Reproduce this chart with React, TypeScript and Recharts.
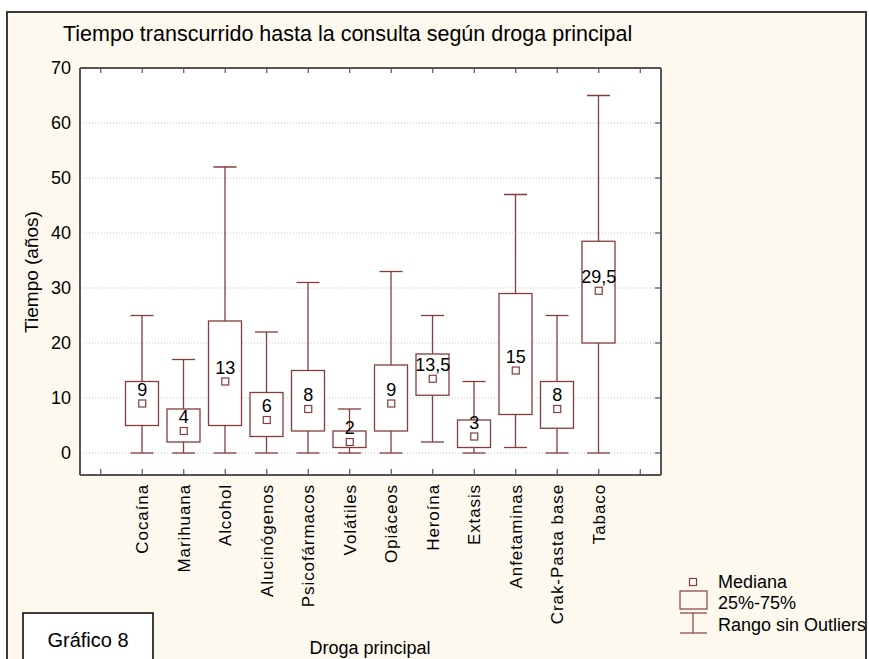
import { ComposedChart, Bar, Line, XAxis, YAxis, CartesianGrid } from 'recharts';

const drugs = [
  'Cocaína',
  'Marihuana',
  'Alcohol',
  'Alucinógenos',
  'Psicofármacos',
  'Volátiles',
  'Opiáceos',
  'Heroína',
  'Extasis',
  'Anfetaminas',
  'Crak-Pasta base',
  'Tabaco',
];
const mins = [0, 0, 0, 0, 0, 0, 0, 2, 0, 1, 0, 0];
const q1s = [5, 2, 5, 3, 4, 1, 4, 10.5, 1, 7, 4.5, 20];
const medians = [9, 4, 13, 6, 8, 2, 9, 13.5, 3, 15, 8, 29.5];
const q3s = [13, 8, 24, 11, 15, 4, 16, 18, 6, 29, 13, 38.5];
const maxs = [25, 17, 52, 22, 31, 8, 33, 25, 13, 47, 25, 65];
const yTicks = [0, 10, 20, 30, 40, 50, 60, 70];

// empty slot at each end, like the original plot
const data = [
  { name: '' },
  ...drugs.map((name, i) => ({
    name,
    range: [mins[i], maxs[i]],
    min: mins[i],
    q1: q1s[i],
    median: medians[i],
    q3: q3s[i],
    max: maxs[i],
  })),
  { name: ' ' },
];

const MAROON = '#843c3c';
const AXIS = '#555';
const FONT = '"Liberation Sans", Arial, sans-serif';

function BoxShape(props: any) {
  const { x, y, width, height, payload } = props;
  if (!payload || payload.q1 == null || height == null) return null;
  const top = Math.min(y, y + height);
  const bottom = Math.max(y, y + height);
  const k = (bottom - top) / (payload.max - payload.min);
  const yOf = (v: number) => top + (payload.max - v) * k;
  const cx = x + width / 2;
  const cap = 11.5;
  return (
    <g stroke={MAROON} strokeWidth={1.3} fill="none">
      <line x1={cx} x2={cx} y1={yOf(payload.max)} y2={yOf(payload.min)} />
      <line x1={cx - cap} x2={cx + cap} y1={yOf(payload.max)} y2={yOf(payload.max)} />
      <line x1={cx - cap} x2={cx + cap} y1={yOf(payload.min)} y2={yOf(payload.min)} />
      <rect
        x={x}
        y={yOf(payload.q3)}
        width={width}
        height={yOf(payload.q1) - yOf(payload.q3)}
        fill="#fff"
      />
    </g>
  );
}

function MedianDot(props: any) {
  const { cx, cy, value } = props;
  if (value == null || cy == null || isNaN(cy)) return null;
  return (
    <rect
      key={`m-${cx}`}
      x={cx - 3.5}
      y={cy - 3.5}
      width={7}
      height={7}
      fill="#fff"
      stroke={MAROON}
      strokeWidth={1.2}
    />
  );
}

function MedianLabel(props: any) {
  const { x, y, value } = props;
  if (value == null || y == null || isNaN(y)) return null;
  return (
    <text
      x={x}
      y={y - 8}
      textAnchor="middle"
      fontSize={18}
      fontFamily={FONT}
      fill="#000"
    >
      {String(value).replace('.', ',')}
    </text>
  );
}

function BottomTick(props: any) {
  const { x, y, payload } = props;
  const label = String(payload.value).trim();
  return (
    <g>
      <line x1={x} x2={x} y1={y - 1} y2={y - 6} stroke={AXIS} strokeWidth={1.2} />
      {label && (
        <text
          transform={`translate(${x},${y + 9}) rotate(-90)`}
          textAnchor="end"
          dy="0.36em"
          fontSize={17}
          letterSpacing={0.9}
          fontFamily={FONT}
          fill="#000"
        >
          {label}
        </text>
      )}
    </g>
  );
}

function TopTick(props: any) {
  const { x, y } = props;
  return <line x1={x} x2={x} y1={y + 1} y2={y + 5} stroke={AXIS} strokeWidth={1.2} />;
}

function LeftTick(props: any) {
  const { x, y, payload } = props;
  return (
    <text
      x={x - 9}
      y={y}
      dy="0.36em"
      textAnchor="end"
      fontSize={18}
      fontFamily={FONT}
      fill="#000"
    >
      {payload.value}
    </text>
  );
}

function RightTick(props: any) {
  const { x, y } = props;
  return <line x1={x - 1} x2={x - 6} y1={y} y2={y} stroke={AXIS} strokeWidth={1.2} />;
}

export default function App() {
  return (
    <div
      style={{
        position: 'relative',
        width: 869,
        height: 659,
        overflow: 'hidden',
        background: '#fff',
        fontFamily: FONT,
      }}
    >
      <style>{'body{margin:0}'}</style>
      <div
        style={{
          position: 'absolute',
          left: 6,
          top: 11,
          width: 861,
          height: 700,
          boxSizing: 'border-box',
          border: '2px solid #3a3a3a',
          background: '#fdf9ef',
        }}
      />
      <div style={{ position: 'absolute', left: 0, top: 0 }}>
        <ComposedChart
          width={869}
          height={659}
          data={data}
          margin={{ top: 67, right: 207, bottom: 183, left: 79 }}
        >
          <CartesianGrid
            vertical={false}
            stroke="#c4c4c4"
            strokeDasharray="1 2"
            fill="#fff"
            fillOpacity={1}
          />
          <XAxis
            dataKey="name"
            height={1}
            interval={0}
            tickLine={false}
            tickSize={0}
            tickMargin={0}
            axisLine={{ stroke: AXIS, strokeWidth: 2 }}
            tick={BottomTick}
          />
          <XAxis
            xAxisId="top"
            orientation="top"
            dataKey="name"
            height={1}
            interval={0}
            tickLine={false}
            tickSize={0}
            tickMargin={0}
            axisLine={{ stroke: AXIS, strokeWidth: 2 }}
            tick={TopTick}
          />
          <YAxis
            type="number"
            domain={[-4, 70]}
            ticks={yTicks}
            allowDataOverflow
            width={1}
            tickLine={false}
            tickSize={0}
            tickMargin={0}
            axisLine={{ stroke: AXIS, strokeWidth: 2 }}
            tick={LeftTick}
          />
          <YAxis
            yAxisId="right"
            orientation="right"
            type="number"
            domain={[-4, 70]}
            ticks={yTicks}
            allowDataOverflow
            width={1}
            tickLine={false}
            tickSize={0}
            tickMargin={0}
            axisLine={{ stroke: AXIS, strokeWidth: 2 }}
            tick={RightTick}
          />
          <Bar
            dataKey="range"
            barSize={33}
            shape={<BoxShape />}
            isAnimationActive={false}
          />
          <Line
            xAxisId="top"
            yAxisId="right"
            dataKey="median"
            stroke="none"
            dot={<MedianDot />}
            activeDot={false}
            label={<MedianLabel />}
            isAnimationActive={false}
          />
        </ComposedChart>
      </div>
      <svg
        width={869}
        height={659}
        style={{ position: 'absolute', left: 0, top: 0, pointerEvents: 'none' }}
        fontFamily={FONT}
      >
        <text x={63} y={41} fontSize={21.5} fill="#000">
          Tiempo transcurrido hasta la consulta según droga principal
        </text>
        <text
          transform="translate(38,272) rotate(-90)"
          textAnchor="middle"
          fontSize={19}
          fill="#000"
        >
          Tiempo (años)
        </text>
        <text x={370} y={654} textAnchor="middle" fontSize={18} fill="#000">
          Droga principal
        </text>
        <rect x={23} y={613} width={130} height={60} fill="#fff" stroke="#000" strokeWidth={1.5} />
        <text x={88} y={647} textAnchor="middle" fontSize={20} fill="#000">
          Gráfico 8
        </text>
        <g stroke={MAROON} strokeWidth={1.2} fill="none">
          <rect x={689.5} y={578.5} width={7} height={7} fill="#fff" />
          <rect x={680} y={591} width={27} height={18} />
          <line x1={693} x2={693} y1={613} y2={633} />
          <line x1={680} x2={707} y1={613} y2={613} />
          <line x1={680} x2={707} y1={633} y2={633} />
        </g>
        <g fontSize={18} fill="#000">
          <text x={718} y={588}>Mediana</text>
          <text x={718} y={609}>25%-75%</text>
          <text x={718} y={631}>Rango sin Outliers</text>
        </g>
      </svg>
    </div>
  );
}
